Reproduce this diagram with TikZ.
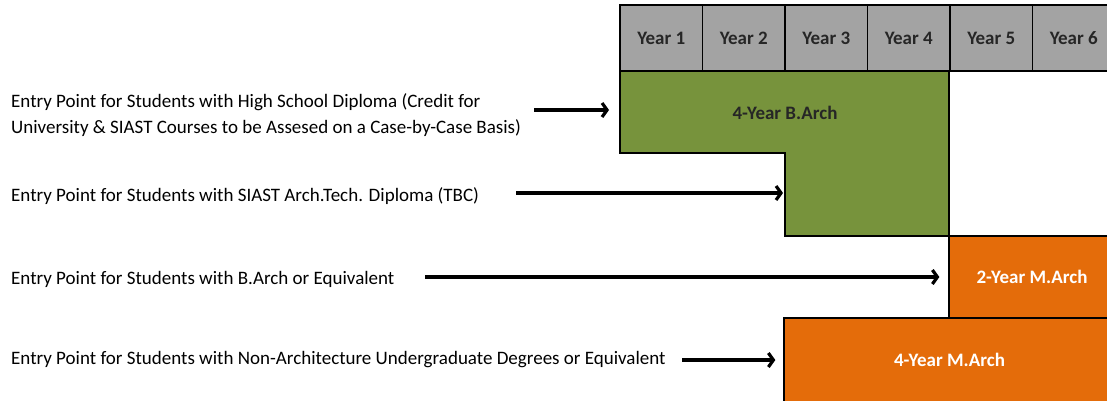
\documentclass[tikz,border=0pt]{standalone}
\usepackage{fontspec}
\setmainfont{Carlito}
\usepackage{tikz}
\usetikzlibrary{shapes,arrows.meta,positioning}
\definecolor{archgreen}{RGB}{119,147,60}
\definecolor{archorange}{RGB}{228,108,10}
\definecolor{headgray}{RGB}{163,163,163}
\definecolor{headtext}{RGB}{38,38,38}
\tikzstyle{yearcell} = [rectangle, draw, line width = 1.3pt, fill = headgray, text = headtext, font = \bfseries\fontsize{19}{20}\selectfont, minimum width = 82.5pt, minimum height = 66pt, inner sep = 0pt]
\tikzstyle{entrytext} = [anchor = west, align = left, font = \fontsize{19}{26}\selectfont, inner sep = 0pt]
\tikzstyle{degree} = [rectangle, draw, line width = 1.3pt, fill = archorange, text = white, font = \bfseries\fontsize{19}{20}\selectfont, inner sep = 0pt]
\tikzstyle{line2} = [draw, line width = 3.2pt, -{Straight Barb[length=5pt, width=14pt]}]

\begin{document}
\begin{tikzpicture}[x = 1pt, y = -1pt]
			\useasboundingbox (0, 0) rectangle (1107, 400);
			\clip (0, 0) rectangle (1107, 400);
			% Place nodes
			\node [yearcell] (year1) at (661.25, 38) {Year 1};
			\node [yearcell] (year2) at (743.75, 38) {Year 2};
			\node [yearcell] (year3) at (826.25, 38) {Year 3};
			\node [yearcell] (year4) at (908.75, 38) {Year 4};
			\node [yearcell] (year5) at (991.25, 38) {Year 5};
			\node [yearcell] (year6) at (1073.75, 38) {Year 6};
			\path [draw, line width = 1.3pt, fill = archgreen] (620, 71) -- (949, 71) -- (949, 236) -- (785, 236) -- (785, 153) -- (620, 153) -- cycle;
			\node [font = \bfseries\fontsize{19}{20}\selectfont, text = headtext] (barch) at (785, 113) {4-Year B.Arch};
			\coordinate (barchtop) at (620, 110);
			\coordinate (barchstep) at (785, 193);
			\node [degree, minimum width = 166pt, minimum height = 82pt] (march2) at (1032, 277) {2-Year M.Arch};
			\node [degree, minimum width = 331pt, minimum height = 84pt] (march4) at (949.5, 360) {4-Year M.Arch};
			\node [entrytext] (highschool) at (11, 115) {Entry Point for Students with High School Diploma (Credit for\\University \& SIAST Courses to be Assesed on a Case-by-Case Basis)};
			\node [entrytext] (archtech) at (11, 196) {Entry Point for Students with SIAST Arch.Tech. Diploma (TBC)};
			\node [entrytext] (bachelor) at (11, 279) {Entry Point for Students with B.Arch or Equivalent};
			\node [entrytext] (nonarch) at (11, 360) {Entry Point for Students with Non-Architecture Undergraduate Degrees or Equivalent};
			\coordinate (from1) at (534, 110);
			\coordinate (from2) at (516, 193);
			\coordinate (from3) at (425, 277);
			\coordinate (from4) at (682, 360);
			% Draw edges
			\path [line2, shorten > = 11pt] (from1) -- (barchtop);
			\path [line2, shorten > = 2pt] (from2) -- (barchstep);
			\path [line2, shorten > = 9pt] (from3) -- (march2);
			\path [line2, shorten > = 8pt] (from4) -- (march4);
		\end{tikzpicture}
\end{document}
